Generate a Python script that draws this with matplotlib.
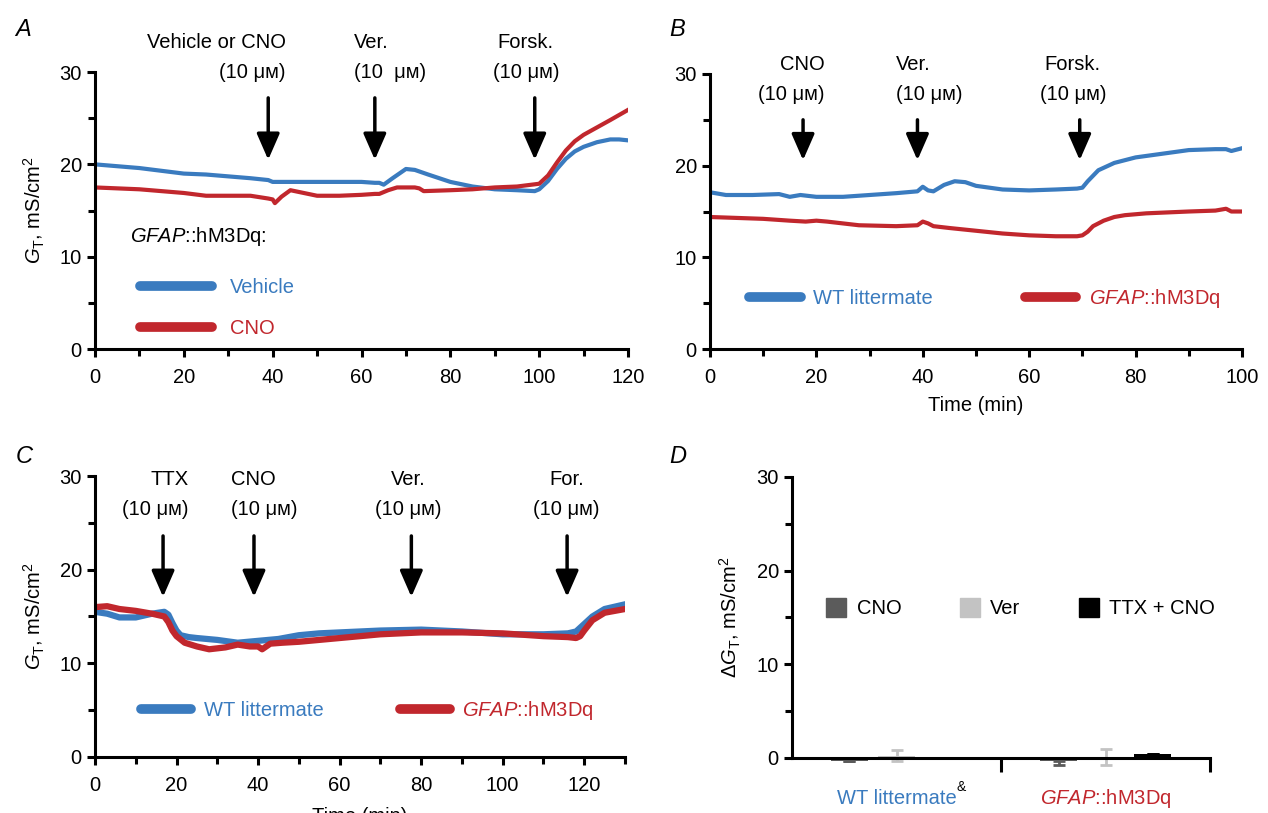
import numpy as np
import matplotlib
matplotlib.use('Agg')
import matplotlib.pyplot as plt
from matplotlib.lines import Line2D
from matplotlib.patches import Patch

FS = 14.5
plt.rcParams['font.family'] = ['Liberation Sans', 'DejaVu Sans']
plt.rcParams['font.size'] = FS
plt.rcParams['mathtext.fontset'] = 'custom'
plt.rcParams['mathtext.rm'] = 'Liberation Sans'
plt.rcParams['mathtext.it'] = 'Liberation Sans:italic'

BLUE = '#3a7bbf'
RED = '#c1272d'

# ---- panel A data ----
a_veh_t = [0, 5, 10, 15, 20, 25, 30, 35, 39, 40, 45, 50, 55, 60, 63, 64, 65, 67, 70, 72, 75, 80, 85,
           90, 95, 99, 100, 102, 104, 106, 108, 110, 113, 116, 118, 120]
a_veh = [20.0, 19.8, 19.6, 19.3, 19.0, 18.9, 18.7, 18.5, 18.3, 18.1, 18.1, 18.1, 18.1, 18.1, 18.0, 18.0,
         17.8, 18.5, 19.5, 19.4, 18.9, 18.1, 17.6, 17.3, 17.2, 17.1, 17.3, 18.2, 19.5, 20.6, 21.4, 21.9,
         22.4, 22.7, 22.7, 22.6]
a_cno_t = [0, 10, 20, 25, 30, 35, 39, 40, 40.5, 42, 44, 46, 50, 55, 60, 63, 64, 66, 68, 72, 73, 74, 80,
           85, 90, 95, 100, 102, 104, 106, 108, 110, 113, 116, 120]
a_cno = [17.5, 17.3, 16.9, 16.6, 16.6, 16.6, 16.3, 16.2, 15.8, 16.5, 17.2, 17.0, 16.6, 16.6, 16.7, 16.8,
         16.8, 17.2, 17.5, 17.5, 17.4, 17.1, 17.2, 17.3, 17.5, 17.6, 17.9, 18.8, 20.2, 21.5, 22.5, 23.2,
         24.0, 24.8, 25.9]
a_arrows = [39, 63, 99]

# ---- panel B data ----
b_wt_t = [0, 3, 8, 13, 15, 17, 20, 25, 30, 35, 39, 40, 41, 42, 44, 46, 48, 50, 55, 60, 65, 69, 70, 71,
          73, 76, 80, 85, 90, 95, 97, 98, 100]
b_wt = [17.1, 16.8, 16.8, 16.9, 16.6, 16.8, 16.6, 16.6, 16.8, 17.0, 17.2, 17.7, 17.3, 17.2, 17.9, 18.3,
        18.2, 17.8, 17.4, 17.3, 17.4, 17.5, 17.6, 18.3, 19.5, 20.3, 20.9, 21.3, 21.7, 21.8, 21.8, 21.6, 21.9]
b_gf_t = [0, 5, 10, 15, 18, 20, 22, 25, 28, 35, 39, 40, 41, 42, 45, 50, 55, 60, 65, 69, 70, 71, 72, 74,
          76, 78, 82, 86, 90, 95, 97, 98, 100]
b_gf = [14.4, 14.3, 14.2, 14.0, 13.9, 14.0, 13.9, 13.7, 13.5, 13.4, 13.5, 13.9, 13.7, 13.4, 13.2, 12.9,
        12.6, 12.4, 12.3, 12.3, 12.4, 12.8, 13.4, 14.0, 14.4, 14.6, 14.8, 14.9, 15.0, 15.1, 15.3, 15.0, 15.0]
b_arrows = [17.5, 39, 69.5]

# ---- panel C data ----
c_wt_t = [0, 3, 6, 10, 14, 17, 18, 19, 20, 21, 23, 25, 30, 35, 40, 45, 50, 55, 60, 70, 80, 90, 100, 110,
          116, 118, 120, 122, 125, 130]
c_wt = [15.5, 15.3, 14.9, 14.9, 15.3, 15.5, 15.2, 14.3, 13.5, 13.0, 12.8, 12.7, 12.5, 12.2, 12.4, 12.6,
        13.0, 13.2, 13.3, 13.5, 13.6, 13.4, 13.1, 13.1, 13.2, 13.4, 14.2, 15.0, 15.8, 16.3]
c_gf_t = [0, 3, 6, 10, 14, 17, 18, 19, 20, 22, 25, 28, 32, 35, 38, 40, 41, 43, 46, 50, 55, 60, 70, 80,
          90, 100, 110, 116, 118, 119, 120, 122, 125, 130]
c_gf = [16.0, 16.1, 15.8, 15.6, 15.3, 15.0, 14.4, 13.5, 12.9, 12.2, 11.8, 11.5, 11.7, 12.0, 11.8, 11.8,
        11.5, 12.1, 12.2, 12.3, 12.5, 12.7, 13.1, 13.3, 13.3, 13.2, 12.9, 12.8, 12.7, 12.9, 13.5, 14.6,
        15.4, 15.8]
c_arrows = [16.7, 39, 77.6, 115.8]

# ---- panel D data ----
d_treat = ['CNO', 'Ver', 'TTX + CNO']
d_colors = ['#5b5b5b', '#c3c3c3', '#000000']
d_wt = [-0.3, 0.25, 0.0]
d_wt_lo = [0.0, 0.6, 0.0]
d_wt_hi = [0.0, 0.6, 0.0]
d_gf = [-0.3, 0.1, 0.4]
d_gf_lo = [0.4, 0.9, 0.0]
d_gf_hi = [0.0, 0.9, 0.0]
d_pos_wt = [0.55, 1.0, 1.45]
d_pos_gf = [2.55, 3.0, 3.45]

ylab = r'$\it{G}_{\rm T}$, mS/cm$^2$'
gfap = r'$\it{GFAP}$::hM3Dq'
mu = '(10 \u03bc\u043c)'

fig = plt.figure(figsize=(12.68, 8.13), dpi=100)
axA = fig.add_axes([0.0749, 0.5707, 0.4204, 0.3407])
axB = fig.add_axes([0.5599, 0.5707, 0.4196, 0.3383])
axC = fig.add_axes([0.0749, 0.0689, 0.4180, 0.3456])
axD = fig.add_axes([0.6246, 0.0677, 0.3297, 0.3456])


def style(ax, xmax, xmaj, xmin):
    for s in ['top', 'right']:
        ax.spines[s].set_visible(False)
    for s in ['left', 'bottom']:
        ax.spines[s].set_linewidth(2.2)
    ax.set_ylim(0, 30)
    ax.set_xlim(0, xmax)
    ax.set_yticks([0, 10, 20, 30])
    ax.set_yticks([5, 15, 25], minor=True)
    ax.set_xticks(np.arange(0, xmax + 1, xmaj))
    ax.set_xticks(np.arange(0, xmax + 1, xmin), minor=True)
    ax.tick_params(which='both', direction='out', width=2.2, labelsize=FS)
    ax.tick_params(which='major', length=6)
    ax.tick_params(which='minor', length=5)
    ax.tick_params(axis='x', pad=8)


def arrow(ax, x, y0, y1):
    ax.annotate('', xy=(x, y1), xytext=(x, y0),
                arrowprops=dict(arrowstyle='-|>,head_length=0.8,head_width=0.35', lw=2.5,
                                color='black', mutation_scale=20, shrinkA=0, shrinkB=0),
                annotation_clip=False)


def label2(ax, x, y1, y2, t1, t2, ha):
    ax.text(x, y1, t1, ha=ha, va='center', fontsize=FS, clip_on=False)
    ax.text(x, y2, t2, ha=ha, va='center', fontsize=FS, clip_on=False)


def leg_handles():
    return [Line2D([], [], color=BLUE, lw=7, solid_capstyle='round'),
            Line2D([], [], color=RED, lw=7, solid_capstyle='round')]


# Panel A
style(axA, 120, 20, 10)
axA.plot(a_veh_t, a_veh, color=BLUE, lw=3)
axA.plot(a_cno_t, a_cno, color=RED, lw=3)
for x in a_arrows:
    arrow(axA, x, 27.2, 20.5)
label2(axA, 43, 33.2, 30.0, 'Vehicle or CNO', mu, 'right')
label2(axA, 58.3, 33.2, 30.0, 'Ver.', '(10  \u03bc\u043c)', 'left')
label2(axA, 97, 33.2, 30.0, 'Forsk.', mu, 'center')
axA.set_ylabel(ylab, fontsize=FS, labelpad=9)
axA.text(0.066, 0.408, gfap + ':', transform=axA.transAxes, ha='left', va='center', fontsize=FS)
lg = axA.legend(leg_handles(), ['Vehicle', 'CNO'], loc='center left',
                bbox_to_anchor=(0.065, 0.148), frameon=False, handlelength=3.6, handletextpad=0.9,
                labelspacing=1.1, borderpad=0, fontsize=FS)
for txt, c in zip(lg.get_texts(), [BLUE, RED]):
    txt.set_color(c)

# Panel B
style(axB, 100, 20, 10)
axB.plot(b_wt_t, b_wt, color=BLUE, lw=3)
axB.plot(b_gf_t, b_gf, color=RED, lw=3)
for x in b_arrows:
    arrow(axB, x, 25.0, 20.6)
label2(axB, 21.6, 31.0, 27.8, 'CNO', mu, 'right')
label2(axB, 35.0, 31.0, 27.8, 'Ver.', mu, 'left')
label2(axB, 68.2, 31.0, 27.8, 'Forsk.', mu, 'center')
axB.set_xlabel('Time (min)', fontsize=FS, labelpad=6)
lg = axB.legend(leg_handles(), ['WT littermate', gfap], loc='center left', ncol=2,
                bbox_to_anchor=(0.055, 0.185), frameon=False, handlelength=2.55, handletextpad=0.6,
                columnspacing=4.6, borderpad=0, fontsize=FS)
for txt, c in zip(lg.get_texts(), [BLUE, RED]):
    txt.set_color(c)

# Panel C
style(axC, 130, 20, 10)
axC.set_xticks(np.arange(0, 121, 20))
axC.set_xticks(np.arange(0, 131, 10), minor=True)
axC.plot(c_wt_t, c_wt, color=BLUE, lw=4.5)
axC.plot(c_gf_t, c_gf, color=RED, lw=4.5)
for x in c_arrows:
    arrow(axC, x, 23.6, 17.1)
label2(axC, 23.0, 29.6, 26.4, 'TTX', mu, 'right')
label2(axC, 33.4, 29.6, 26.4, 'CNO', mu, 'left')
label2(axC, 76.8, 29.6, 26.4, 'Ver.', mu, 'center')
label2(axC, 115.6, 29.6, 26.4, 'For.', mu, 'center')
axC.set_ylabel(ylab, fontsize=FS, labelpad=9)
axC.set_xlabel('Time (min)', fontsize=FS, labelpad=8)
lg = axC.legend(leg_handles(), ['WT littermate', gfap], loc='center left', ncol=2,
                bbox_to_anchor=(0.068, 0.165), frameon=False, handlelength=2.5, handletextpad=0.6,
                columnspacing=3.8, borderpad=0, fontsize=FS)
for txt, c in zip(lg.get_texts(), [BLUE, RED]):
    txt.set_color(c)

# Panel D
for s in ['top', 'right']:
    axD.spines[s].set_visible(False)
for s in ['left', 'bottom']:
    axD.spines[s].set_linewidth(2.2)
axD.set_ylim(0, 30)
axD.set_xlim(0, 4)
axD.set_yticks([0, 10, 20, 30])
axD.set_yticks([5, 15, 25], minor=True)
axD.set_xticks([2, 4])
axD.set_xticklabels([])
axD.tick_params(axis='y', which='both', direction='out', width=2.2, labelsize=FS)
axD.tick_params(axis='y', which='major', length=6)
axD.tick_params(axis='y', which='minor', length=5)
axD.tick_params(axis='x', direction='out', width=2.2, length=10)
for i in range(3):
    axD.bar(d_pos_wt[i], d_wt[i], width=0.35, color=d_colors[i], clip_on=False,
            yerr=[[d_wt_lo[i]], [d_wt_hi[i]]], ecolor=d_colors[i], capsize=4,
            error_kw=dict(lw=2, capthick=2, clip_on=False))
    axD.bar(d_pos_gf[i], d_gf[i], width=0.35, color=d_colors[i], clip_on=False,
            yerr=[[d_gf_lo[i]], [d_gf_hi[i]]], ecolor=d_colors[i], capsize=4,
            error_kw=dict(lw=2, capthick=2, clip_on=False))
axD.set_ylabel(r'$\Delta\it{G}_{\rm T}$, mS/cm$^2$', fontsize=FS, labelpad=10)
wt_txt = axD.text(1.0, -0.145, 'WT littermate', color=BLUE, ha='center', va='center',
                  transform=axD.get_xaxis_transform(), fontsize=FS)
axD.annotate('&', xy=(1.0, 0.75), xycoords=wt_txt, ha='left', va='bottom', fontsize=10,
             color='black', annotation_clip=False)
axD.text(3.0, -0.145, gfap, color=RED, ha='center', va='center',
         transform=axD.get_xaxis_transform(), fontsize=FS)
hd = [Patch(color=c) for c in d_colors]
axD.legend(hd, d_treat, loc='center left', bbox_to_anchor=(0.058, 0.534), ncol=3, frameon=False,
           handlelength=1.0, handleheight=1.1, handletextpad=0.5, columnspacing=2.9, borderpad=0,
           fontsize=FS)

# panel letters
for x, y, s in [(0.012, 0.964, 'A'), (0.528, 0.964, 'B'), (0.012, 0.438, 'C'), (0.528, 0.438, 'D')]:
    fig.text(x, y, s, fontsize=17, style='italic', va='center')

fig.savefig('out.png', dpi=100)
